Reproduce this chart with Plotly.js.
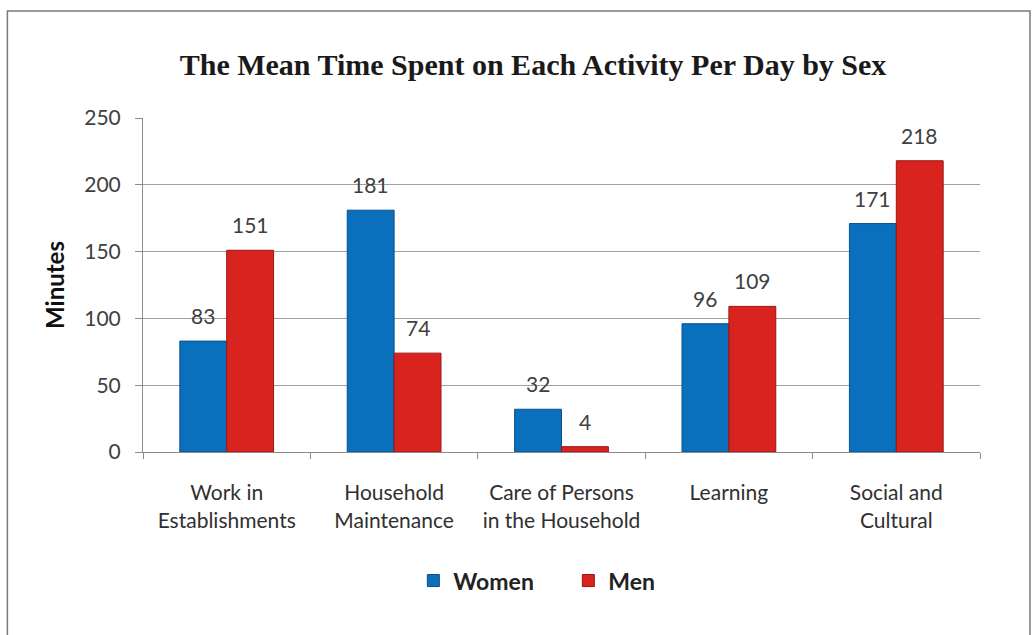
<!DOCTYPE html>
<html><head><meta charset="utf-8">
<script src="https://cdn.plot.ly/plotly-3.0.1.min.js"></script>
<style>html,body{margin:0;padding:0;background:#fff}#chart{width:1036px;height:635px}</style>
</head><body><div id="chart"></div>
<script>
const categories = ["Work in<br>Establishments", "Household<br>Maintenance", "Care of Persons<br>in the Household", "Learning", "Social and<br>Cultural"];
const women = [83, 181, 32, 96, 171];
const men = [151, 74, 4, 109, 218];
const yTicks = [0, 50, 100, 150, 200, 250];

const FONT = "Lato, Open Sans, sans-serif";
const labelFont = {family: FONT, size: 21, color: "#404040"};
const traces = [
  {type: "bar", name: "Women", x: categories, y: women,
   marker: {color: "#0a6fbd", line: {color: "#0a4f8a", width: 1}}},
  {type: "bar", name: "Men", x: categories, y: men,
   marker: {color: "#d8231f", line: {color: "#9a1512", width: 1}}}
];
// value labels above bars, built from the data arrays
const annotations = [];
[[women, -23.5], [men, 23.5]].forEach(([vals, dx]) => {
  vals.forEach((v, i) => annotations.push({
    x: categories[i], y: v, xref: "x", yref: "y", text: String(v), showarrow: false,
    xshift: dx, yshift: 11, yanchor: "bottom", font: labelFont
  }));
});
const layout = {
  width: 1036, height: 635,
  paper_bgcolor: "#ffffff", plot_bgcolor: "rgba(0,0,0,0)",
  margin: {l: 143, r: 56, t: 118, b: 183},
  title: {text: "<b>The Mean Time Spent on Each Activity Per Day by Sex</b>",
          font: {family: "Liberation Serif, serif", size: 30, color: "#1a1a1a"},
          x: 0.466, xref: "paper", xanchor: "center", y: 0.898, yref: "container", yanchor: "middle"},
  barmode: "group", bargap: 0.44, bargroupgap: 0,
  xaxis: {showline: true, linecolor: "#8c8c8c", linewidth: 1, ticks: "outside", tickson: "boundaries",
          ticklen: 6, tickcolor: "#8c8c8c", ticklabelstandoff: 22,
          tickfont: {family: FONT, size: 21, color: "#303030"},
          showgrid: false, fixedrange: true},
  yaxis: {range: [0, 250], tickvals: yTicks, showline: true, linecolor: "#8c8c8c", linewidth: 1,
          ticks: "outside", ticklen: 7, tickcolor: "#8c8c8c", showgrid: true, gridcolor: "#a0a0a0",
          ticklabelstandoff: 10,
          tickfont: {family: FONT, size: 21, color: "#404040"}, zeroline: false,
          title: {text: "<b>Minutes</b>", font: {family: FONT, size: 24, color: "#111"}, standoff: 12}},
  legend: {orientation: "h", x: 0.323, xanchor: "left", y: -0.385, yanchor: "middle",
           font: {family: FONT, size: 23, color: "#222", weight: "bold"}, itemwidth: 30,
           entrywidth: 110, entrywidthmode: "pixels"},
  annotations: annotations,
  shapes: [{type: "rect", xref: "paper", yref: "paper", x0: -0.162, x1: 1.0597, y0: -0.57, y1: 1.32,
            line: {color: "#7a7a7a", width: 1.5}, fillcolor: "rgba(0,0,0,0)", layer: "below"}]
};
Plotly.newPlot("chart", traces, layout, {displayModeBar: false, staticPlot: true});
</script></body></html>
